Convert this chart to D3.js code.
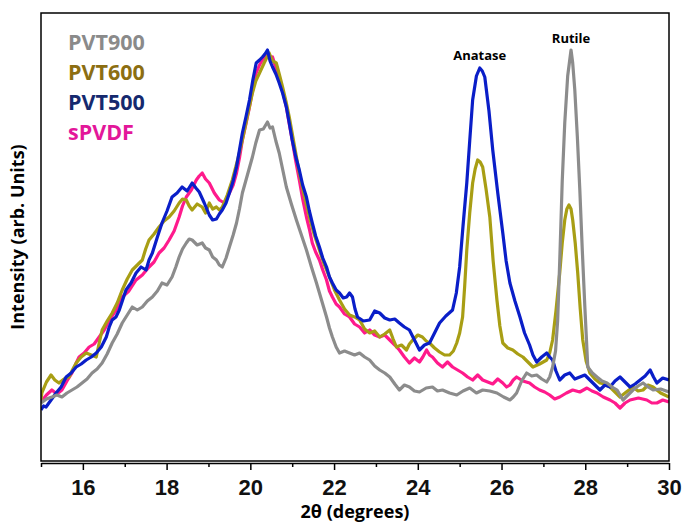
<!DOCTYPE html>
<html>
<head>
<meta charset="utf-8">
<style>
  body { margin: 0; background: #fff; }
  svg { display: block; }
  .tick text { font-family: "Liberation Sans Narrow", "Arial Narrow", "Liberation Sans", Arial, sans-serif; font-weight: bold; font-size: 22px; fill: #111; }
  .legend text { font-family: "Open Sans", "Noto Sans", sans-serif; font-weight: bold; font-size: 21.5px; }
</style>
</head>
<body>
<div id="container"></div>
<script src="https://d3js.org/d3.v7.min.js"></script>
<script>

// 2θ positions and intensities (arb. units)
var pvdfX = [15.00,15.13,15.26,15.38,15.50,15.62,15.74,15.83,15.91,16.03,16.15,16.27,16.39,16.51,16.63,16.78,16.94,17.10,17.27,17.42,17.58,17.70,17.82,17.94,18.06,18.18,18.30,18.38,18.47,18.59,18.71,18.78,18.85,18.93,19.02,19.14,19.26,19.38,19.50,19.59,19.67,19.74,19.81,19.90,19.98,20.06,20.14,20.22,20.29,20.35,20.41,20.47,20.53,20.61,20.69,20.77,20.86,20.93,21.00,21.08,21.17,21.25,21.34,21.41,21.48,21.56,21.65,21.73,21.82,21.89,21.96,22.05,22.13,22.25,22.37,22.49,22.61,22.73,22.85,22.97,23.09,23.21,23.33,23.45,23.56,23.68,23.80,23.92,24.04,24.12,24.21,24.28,24.35,24.47,24.59,24.71,24.83,24.95,25.07,25.19,25.31,25.43,25.55,25.67,25.79,25.91,26.03,26.12,26.20,26.28,26.36,26.51,26.67,26.79,26.91,27.03,27.15,27.27,27.39,27.55,27.70,27.87,28.04,28.16,28.28,28.43,28.59,28.71,28.83,28.95,29.07,29.27,29.47,29.59,29.71,29.85,30.00];
var pvdfY = [59,66,71,67,71,80,88,97,104,108,114,117,124,131,141,150,164,170,181,186,194,199,208,213,221,230,244,255,264,271,281,285,288,282,278,268,261,258,268,276,288,303,321,338,354,372,388,396,401,404,408,403,404,393,384,370,354,337,321,301,281,262,244,232,218,209,201,191,181,170,164,157,154,147,144,137,134,128,131,126,124,126,121,116,111,104,98,103,99,104,111,106,104,98,94,99,94,91,88,84,81,86,81,79,77,82,78,74,76,81,84,80,78,74,71,69,66,62,64,68,71,69,73,70,68,64,61,58,53,58,61,63,61,58,58,61,59];

var pvt600X = [15.00,15.02,15.13,15.24,15.33,15.43,15.55,15.67,15.75,15.84,15.96,16.08,16.20,16.32,16.39,16.46,16.58,16.70,16.82,16.94,17.06,17.18,17.30,17.42,17.50,17.58,17.70,17.82,17.94,18.06,18.18,18.30,18.38,18.47,18.54,18.61,18.73,18.85,18.93,19.02,19.10,19.19,19.26,19.33,19.45,19.57,19.69,19.81,19.93,20.05,20.13,20.22,20.33,20.45,20.53,20.62,20.69,20.77,20.85,20.93,21.05,21.17,21.29,21.41,21.53,21.65,21.77,21.89,22.01,22.13,22.25,22.37,22.49,22.61,22.73,22.85,22.97,23.09,23.21,23.33,23.41,23.49,23.61,23.73,23.80,23.88,24.00,24.11,24.20,24.28,24.40,24.52,24.64,24.76,24.85,24.93,25.00,25.07,25.12,25.17,25.24,25.31,25.37,25.43,25.49,25.55,25.63,25.72,25.80,25.89,25.96,26.03,26.15,26.27,26.39,26.51,26.63,26.75,26.91,27.08,27.15,27.22,27.30,27.39,27.45,27.51,27.56,27.61,27.66,27.70,27.76,27.82,27.88,27.94,28.02,28.11,28.23,28.35,28.47,28.59,28.71,28.83,28.98,29.14,29.26,29.38,29.50,29.62,29.80,30.00];
var pvt600Y = [61,68,79,86,81,78,82,84,91,98,104,108,106,104,118,131,140,148,158,171,182,191,196,201,212,221,227,234,240,244,250,258,262,261,255,251,257,254,248,258,252,254,251,254,266,281,300,321,345,368,380,388,398,408,400,398,387,374,360,344,316,288,265,244,226,211,196,184,171,161,152,146,144,141,132,128,130,124,127,131,122,114,116,111,117,121,126,124,120,118,113,109,106,106,110,118,128,144,175,211,248,278,292,301,299,294,272,244,200,161,135,118,113,111,107,104,99,94,97,101,108,121,150,188,218,241,252,256,252,241,218,188,152,121,100,88,82,78,77,74,69,64,69,74,70,71,76,74,68,64];

var pvt500X = [15.00,15.06,15.12,15.24,15.36,15.48,15.60,15.72,15.84,15.96,16.08,16.20,16.32,16.44,16.56,16.63,16.70,16.79,16.87,16.95,17.03,17.15,17.27,17.39,17.51,17.58,17.66,17.78,17.89,18.01,18.13,18.25,18.37,18.49,18.61,18.70,18.78,18.90,19.02,19.10,19.19,19.26,19.33,19.42,19.50,19.59,19.67,19.74,19.81,19.90,19.98,20.06,20.14,20.22,20.29,20.35,20.41,20.47,20.53,20.61,20.69,20.77,20.86,20.93,21.00,21.08,21.17,21.25,21.34,21.41,21.48,21.56,21.65,21.73,21.82,21.89,21.96,22.05,22.13,22.22,22.30,22.37,22.44,22.50,22.56,22.70,22.85,22.97,23.09,23.21,23.33,23.45,23.56,23.68,23.80,23.92,24.04,24.16,24.28,24.40,24.52,24.67,24.83,24.92,25.00,25.08,25.17,25.24,25.31,25.40,25.48,25.54,25.60,25.70,25.79,25.91,26.03,26.11,26.20,26.32,26.44,26.55,26.67,26.75,26.84,26.96,27.08,27.15,27.22,27.30,27.39,27.51,27.63,27.75,27.87,27.99,28.11,28.23,28.35,28.47,28.59,28.71,28.83,28.95,29.07,29.19,29.31,29.43,29.55,29.63,29.71,29.85,30.00];
var pvt500Y = [51,55,54,61,68,74,84,88,94,97,101,104,108,114,124,134,141,144,151,161,171,178,188,194,191,201,208,224,238,250,264,268,274,270,278,273,269,258,246,241,242,247,251,258,268,280,294,311,328,345,361,381,398,401,404,407,411,400,394,387,378,368,354,338,321,305,291,276,264,250,238,225,214,203,194,184,178,171,168,163,164,168,164,152,144,140,141,150,148,143,141,142,138,134,131,121,111,116,118,128,138,145,151,168,194,235,278,320,361,385,393,390,384,350,311,268,228,200,178,160,144,128,116,106,99,104,108,104,101,90,81,86,88,82,84,86,81,76,71,76,74,80,84,79,74,77,81,85,91,84,78,83,81];

var pvt900X = [15.00,15.13,15.26,15.38,15.50,15.62,15.74,15.86,15.98,16.10,16.22,16.34,16.46,16.58,16.70,16.82,16.94,17.06,17.18,17.30,17.42,17.54,17.66,17.78,17.89,18.01,18.13,18.22,18.30,18.38,18.47,18.54,18.61,18.73,18.85,18.93,19.02,19.10,19.19,19.26,19.33,19.42,19.50,19.59,19.67,19.74,19.81,19.93,20.05,20.13,20.22,20.31,20.41,20.47,20.53,20.61,20.69,20.77,20.86,20.98,21.10,21.22,21.34,21.46,21.58,21.70,21.82,21.89,21.96,22.05,22.13,22.25,22.37,22.49,22.61,22.73,22.85,22.97,23.09,23.21,23.33,23.45,23.56,23.68,23.80,23.92,24.04,24.20,24.35,24.47,24.59,24.76,24.93,25.08,25.24,25.40,25.55,25.72,25.89,26.05,26.20,26.28,26.36,26.48,26.60,26.72,26.84,26.96,27.08,27.15,27.22,27.29,27.34,27.39,27.45,27.51,27.58,27.66,27.70,27.75,27.81,27.87,27.93,27.99,28.03,28.06,28.17,28.28,28.40,28.52,28.64,28.76,28.83,28.90,29.02,29.14,29.26,29.38,29.50,29.62,29.80,30.00];
var pvt900Y = [58,62,64,66,64,68,71,74,78,82,88,92,98,107,118,127,138,146,154,151,154,160,164,170,178,176,184,194,204,212,218,222,221,216,218,213,211,204,201,196,194,203,214,226,238,252,268,286,304,318,331,332,339,333,334,320,308,292,274,257,241,226,211,194,178,161,144,133,124,114,108,110,108,106,108,104,101,95,91,88,84,77,71,76,74,70,69,73,74,70,71,68,66,70,73,68,71,70,68,64,61,64,68,80,88,85,86,82,79,84,94,110,140,200,280,338,385,411,398,371,325,271,210,154,120,94,88,84,80,78,74,71,66,61,66,71,75,78,74,71,72,69];

var seriesNames = ["sPVDF", "PVT600", "PVT500", "PVT900"];
var lineColors = ["#ff1a8c", "#a89e14", "#0a1ec8", "#8c8c8c"];
var legendNames = ["PVT900", "PVT600", "PVT500", "sPVDF"];
var legendColors = ["#8a8a8a", "#8c6e12", "#15296e", "#e3179a"];
var xTicks = [16, 18, 20, 22, 24, 26, 28, 30];
var xMinorTicks = [15, 17, 19, 21, 23, 25, 27, 29];
var peakNames = ["Anatase", "Rutile"];
var peakX = [25.48, 27.66];
var peakY = [401, 418];

var seriesX = [pvdfX, pvt600X, pvt500X, pvt900X];
var seriesY = [pvdfY, pvt600Y, pvt500Y, pvt900Y];

var W = 685, H = 523;
var margin = {top: 13, right: 16, bottom: 62, left: 41};
var width = W - margin.left - margin.right,
    height = H - margin.top - margin.bottom;

var svg = d3.select("#container").append("svg")
    .attr("width", W)
    .attr("height", H);

var g = svg.append("g").attr("transform", "translate(" + margin.left + "," + margin.top + ")");

var x = d3.scaleLinear().domain([15, 30]).range([0, width]);
var y = d3.scaleLinear().domain([0, 448]).range([height, 0]);

var line = d3.line()
    .x(function(d) { return x(d[0]); })
    .y(function(d) { return y(d[1]); });

var defs = svg.append("defs");
defs.append("clipPath").attr("id", "clip")
  .append("rect").attr("width", width).attr("height", height);

var lines = g.append("g").attr("clip-path", "url(#clip)");
seriesNames.forEach(function(name, i) {
  var pts = seriesX[i].map(function(v, j) { return [v, seriesY[i][j]]; });
  lines.append("path")
      .datum(pts)
      .attr("fill", "none")
      .attr("stroke", lineColors[i])
      .attr("stroke-width", 3.2)
      .attr("stroke-linejoin", "round")
      .attr("d", line);
});

// frame
g.append("rect")
    .attr("width", width)
    .attr("height", height)
    .attr("fill", "none")
    .attr("stroke", "#000")
    .attr("stroke-width", 1.5);

var xAxis = g.append("g")
    .attr("transform", "translate(0," + (height + 2) + ")")
    .call(d3.axisBottom(x).tickValues(xTicks).tickSize(7).tickSizeOuter(0).tickPadding(9));
xAxis.select(".domain").attr("stroke-width", 1.5);
xAxis.selectAll(".tick line").attr("stroke-width", 1.5);

var xMinor = g.append("g")
    .attr("transform", "translate(0," + (height + 2) + ")")
    .call(d3.axisBottom(x).tickValues(xMinorTicks).tickSize(4).tickFormat(""));
xMinor.select(".domain").remove();
xMinor.selectAll(".tick line").attr("stroke-width", 1.5);

svg.append("text")
    .attr("x", margin.left + width / 2)
    .attr("y", 518)
    .attr("text-anchor", "middle")
    .attr("font-family", "'Open Sans', 'Noto Sans', sans-serif")
    .attr("font-weight", "bold")
    .attr("font-size", 18)
    .text("2θ (degrees)");

svg.append("text")
    .attr("transform", "translate(24," + (margin.top + height / 2) + ") rotate(-90)")
    .attr("text-anchor", "middle")
    .attr("font-family", "'Open Sans', 'Noto Sans', sans-serif")
    .attr("font-weight", "bold")
    .attr("font-size", 18)
    .text("Intensity (arb. Units)");

var legend = g.append("g").attr("class", "legend")
  .selectAll("text")
  .data(legendNames)
  .enter().append("text")
    .attr("x", 27)
    .attr("y", function(d, i) { return 37 + i * 30; })
    .attr("fill", function(d, i) { return legendColors[i]; })
    .text(function(d) { return d; });

g.selectAll(".peak")
  .data(peakNames)
  .enter().append("text")
    .attr("class", "peak")
    .attr("x", function(d, i) { return x(peakX[i]); })
    .attr("y", function(d, i) { return y(peakY[i]); })
    .attr("text-anchor", "middle")
    .attr("font-family", "'Open Sans', 'Noto Sans', sans-serif")
    .attr("font-weight", "bold")
    .attr("font-size", 13)
    .text(function(d) { return d; });

</script>
</body>
</html>
